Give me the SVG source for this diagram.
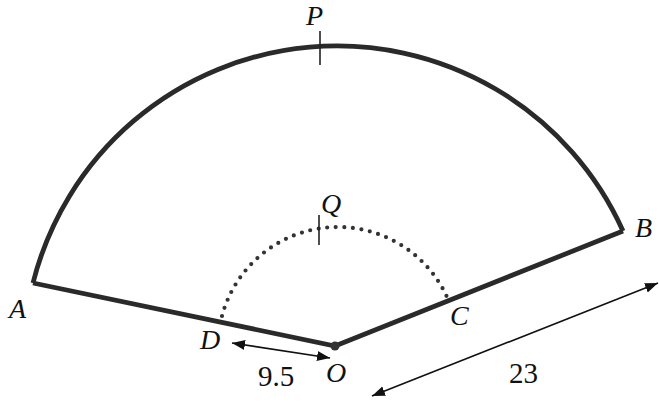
<svg xmlns="http://www.w3.org/2000/svg" width="659" height="403" viewBox="0 0 659 403">
  <style>
    .lbl { font-family: "Liberation Serif", "Times New Roman", serif; font-style: italic; font-size: 28px; fill: #111; }
    .num { font-family: "Liberation Serif", "Times New Roman", serif; font-size: 29px; fill: #111; }
    .thick { fill: none; stroke: #2a2a2a; stroke-width: 4.8; stroke-linejoin: miter; }
    .dots { fill: none; stroke: #333; stroke-width: 4.2; stroke-linecap: round; stroke-dasharray: 0 8.6; }
    .tick { stroke: #222; stroke-width: 1.6; }
    .dim { stroke: #111; stroke-width: 1.6; fill: none; }
  </style>
  <defs>
    <marker id="ah" markerUnits="userSpaceOnUse" markerWidth="14" markerHeight="11" refX="13" refY="5" orient="auto-start-reverse">
      <path d="M0,0 L13,5 L0,10 Z" fill="#111"/>
    </marker>
  </defs>
  <rect width="659" height="403" fill="#fff"/>

  <g id="connectors">
    <path class="thick" d="M33,283 A313.5,313.5 0 0 1 623,231"/>
    <path class="thick" d="M33,283 L335,346 L623,231"/>
    <path class="dots" d="M222,316 A120,120 0 0 1 447,297"/>
    <line class="tick" x1="320" y1="31" x2="320" y2="65"/>
    <line class="tick" x1="319" y1="215" x2="319" y2="245"/>
    <line class="dim" x1="232" y1="343" x2="330" y2="358" marker-start="url(#ah)" marker-end="url(#ah)"/>
    <line class="dim" x1="372" y1="396" x2="658" y2="283" marker-start="url(#ah)" marker-end="url(#ah)"/>
  </g>

  <g id="node-A"><text class="lbl" x="9" y="318">A</text></g>
  <g id="node-B"><text class="lbl" x="635" y="237">B</text></g>
  <g id="node-P"><text class="lbl" x="306" y="25">P</text></g>
  <g id="node-Q"><text class="lbl" x="321" y="213">Q</text></g>
  <g id="node-C"><text class="lbl" x="450" y="325">C</text></g>
  <g id="node-D"><text class="lbl" x="200" y="349">D</text></g>
  <g id="node-O">
    <circle cx="335" cy="346" r="4.5" fill="#333"/>
    <text class="lbl" x="326" y="382">O</text>
  </g>
  <g id="label-9-5"><text class="num" x="258" y="386">9.5</text></g>
  <g id="label-23"><text class="num" x="509" y="383">23</text></g>
</svg>
